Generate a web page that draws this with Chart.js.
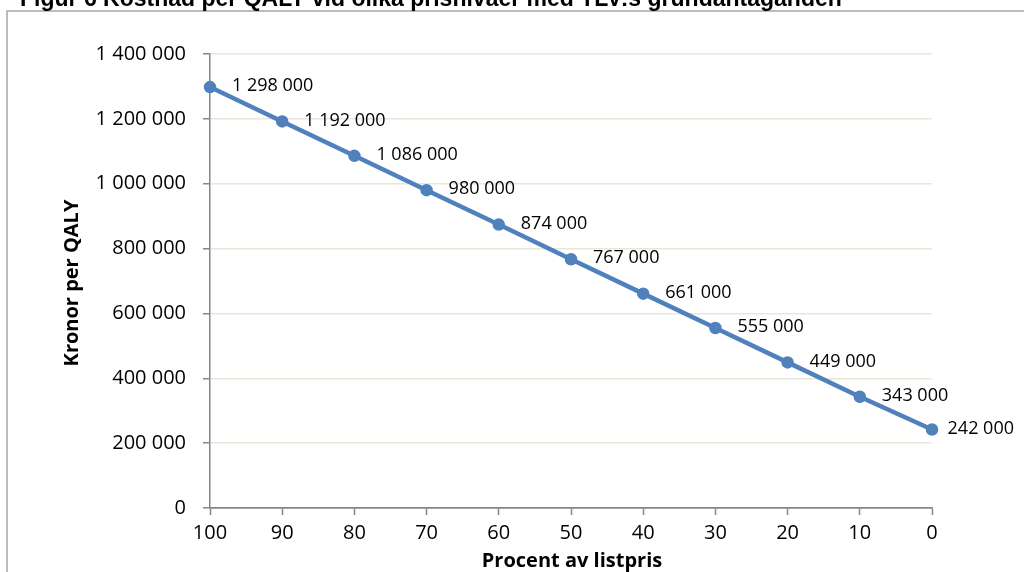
<!DOCTYPE html>
<html>
<head>
<meta charset="utf-8">
<script src="https://cdn.jsdelivr.net/npm/chart.js@4"></script>
<style>
  html, body { margin: 0; padding: 0; background: #ffffff; }
  #wrap { width: 1024px; height: 572px; position: relative; }
</style>
</head>
<body>
<div id="wrap"><canvas id="chart" width="1024" height="572"></canvas></div>
<script>
// Kostnad per QALY vid olika prisnivåer (procent av listpris)
const percentOfListPrice = ['100', '90', '80', '70', '60', '50', '40', '30', '20', '10', '0'];
const costPerQaly = [1298000, 1192000, 1086000, 980000, 874000, 767000, 661000, 555000, 449000, 343000, 242000];
const yAxisMin = 0;
const yAxisMax = 1400000;
const yAxisStep = 200000;

const figureTitle = 'Figur 6 Kostnad per QALY vid olika prisnivåer med TLV:s grundantaganden';
const yAxisTitle = 'Kronor per QALY';
const xAxisTitle = 'Procent av listpris';

const LINE_BLUE = '#4F81BD';
const AXIS_GREY = '#868686';
const GRID_TAN = '#E9E6DA';
const BASE_FONT = '"Open Sans", "Liberation Sans", sans-serif';

function spaced(n) {
  return String(n).replace(/\B(?=(\d{3})+(?!\d))/g, ' ');
}

// Frame, figure title, axis titles and point value labels
const decorations = {
  id: 'decorations',
  afterDraw(chart) {
    const ctx = chart.ctx;
    ctx.save();

    // outer frame (only top and left edges fall inside the canvas)
    ctx.strokeStyle = '#A6A6A6';
    ctx.lineWidth = 1.5;
    ctx.beginPath();
    ctx.moveTo(7, 580);
    ctx.lineTo(7, 11);
    ctx.lineTo(1030, 11);
    ctx.stroke();

    // figure title
    ctx.fillStyle = '#000000';
    ctx.font = 'bold 23px "Liberation Sans", Arial, sans-serif';
    ctx.textAlign = 'left';
    ctx.textBaseline = 'alphabetic';
    ctx.fillText(figureTitle, 20, 6);

    // axis titles
    ctx.font = 'bold 20px ' + BASE_FONT;
    ctx.textAlign = 'center';
    ctx.textBaseline = 'middle';
    ctx.fillText(xAxisTitle, 572, 561);
    ctx.save();
    ctx.translate(72, 283);
    ctx.rotate(-Math.PI / 2);
    ctx.fillText(yAxisTitle, 0, 0);
    ctx.restore();

    // value labels to the right of each point, kept inside the canvas
    const meta = chart.getDatasetMeta(0);
    ctx.font = '18px ' + BASE_FONT;
    ctx.textAlign = 'left';
    ctx.textBaseline = 'middle';
    meta.data.forEach((pt, i) => {
      const txt = spaced(costPerQaly[i]);
      const w = ctx.measureText(txt).width;
      const x = Math.min(pt.x + 22, 1014 - w);
      ctx.fillText(txt, x, pt.y - 1);
    });

    ctx.restore();
  }
};

new Chart(document.getElementById('chart'), {
  type: 'line',
  data: {
    labels: percentOfListPrice,
    datasets: [{
      data: costPerQaly,
      borderColor: LINE_BLUE,
      backgroundColor: LINE_BLUE,
      borderWidth: 4.5,
      pointRadius: 5.5,
      pointHoverRadius: 5.5,
      pointBackgroundColor: LINE_BLUE,
      pointBorderColor: LINE_BLUE,
      pointBorderWidth: 1.5,
      tension: 0,
      fill: false
    }]
  },
  options: {
    responsive: false,
    animation: false,
    events: [],
    layout: { padding: { top: 54, right: 92, left: 0, bottom: 0 } },
    plugins: {
      legend: { display: false },
      tooltip: { enabled: false },
      title: { display: false }
    },
    scales: {
      x: {
        type: 'category',
        offset: false,
        grid: {
          display: true,
          drawOnChartArea: false,
          drawTicks: true,
          tickLength: 7,
          tickColor: AXIS_GREY,
          tickWidth: 1.5
        },
        border: { display: true, color: AXIS_GREY, width: 1.5 },
        ticks: {
          color: '#000000',
          font: { family: BASE_FONT, size: 20 },
          padding: 6,
          maxRotation: 0,
          autoSkip: false
        },
        afterFit(scale) { scale.height = 64; }
      },
      y: {
        min: yAxisMin,
        max: yAxisMax,
        grid: {
          color: (c) => (c.tick && c.tick.value === 0 ? AXIS_GREY : GRID_TAN),
          lineWidth: 1.5,
          drawTicks: true,
          tickLength: 7,
          tickColor: AXIS_GREY,
          tickWidth: 1.5
        },
        border: { display: true, color: AXIS_GREY, width: 1.5 },
        ticks: {
          stepSize: yAxisStep,
          color: '#000000',
          font: { family: BASE_FONT, size: 20 },
          padding: 17,
          callback: (v) => spaced(v)
        },
        afterFit(scale) { scale.width = 210; }
      }
    }
  },
  plugins: [decorations]
});
</script>
</body>
</html>
